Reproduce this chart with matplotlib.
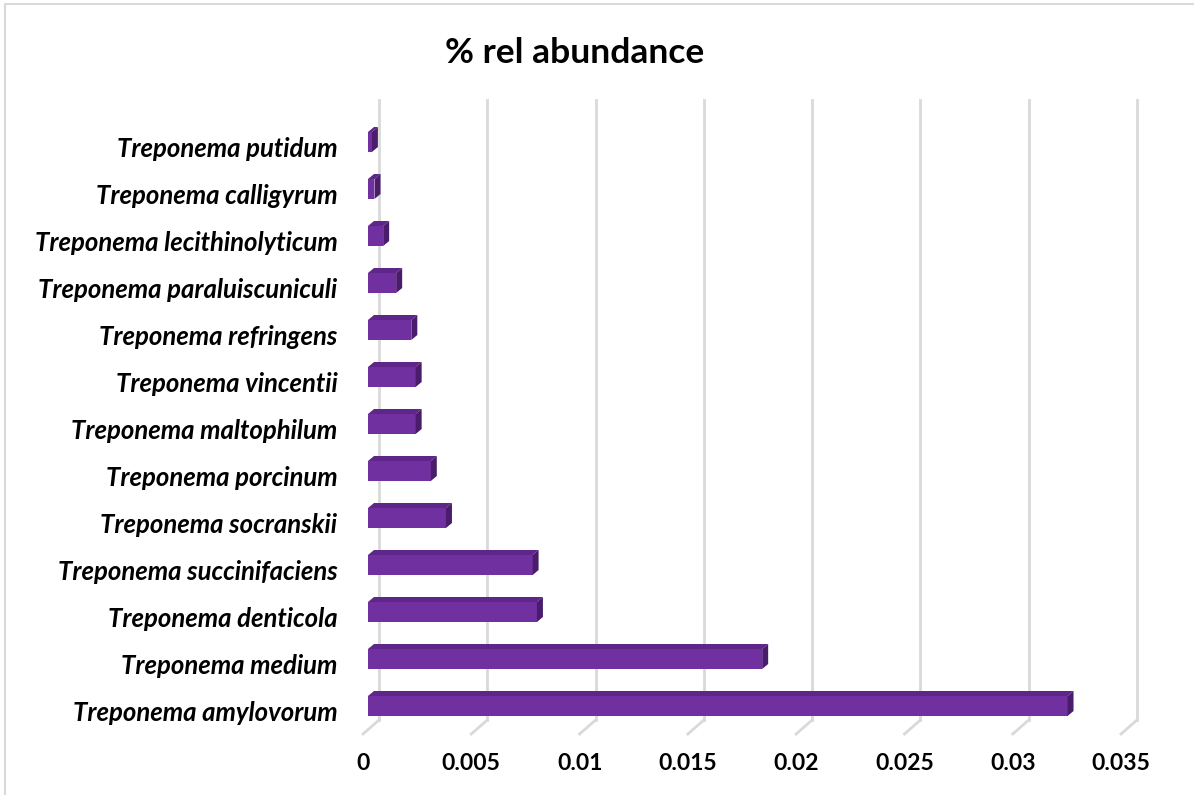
import matplotlib.pyplot as plt
from matplotlib.patches import Polygon, Rectangle
from matplotlib.transforms import ScaledTranslation, blended_transform_factory

# species, listed bottom to top as they appear on the chart
species = [
    "Treponema amylovorum",
    "Treponema medium",
    "Treponema denticola",
    "Treponema succinifaciens",
    "Treponema socranskii",
    "Treponema porcinum",
    "Treponema maltophilum",
    "Treponema vincentii",
    "Treponema refringens",
    "Treponema paraluiscuniculi",
    "Treponema lecithinolyticum",
    "Treponema calligyrum",
    "Treponema putidum",
]
abundance = [0.0323, 0.0182, 0.0078, 0.0076, 0.0036, 0.0029, 0.0022,
             0.0022, 0.0020, 0.0013, 0.0007, 0.0003, 0.00018]
xticks = [0, 0.005, 0.01, 0.015, 0.02, 0.025, 0.03, 0.035]
xtick_labels = ["0", "0.005", "0.01", "0.015", "0.02", "0.025", "0.03", "0.035"]

W, H = 1194, 795
front = "#7030a0"
top_c = "#5e2689"
side_c = "#4a1d6c"
grid_c = "#d9d9d9"
font = "Lato"

fig = plt.figure(figsize=(W / 100, H / 100), dpi=100)

# light outer frame of the chart area
fig.patches.append(Rectangle((5 / W, -0.1), 1.2, (H - 4) / H + 0.1,
                             transform=fig.transFigure, fill=False,
                             ec=grid_c, lw=1.5))

x0, x1 = 368, 1126
ytop, ybot = 104.4, 743.6
ax = fig.add_axes([x0 / W, (H - ybot) / H, (x1 - x0) / W, (ybot - ytop) / H])
ax.set_xlim(0, 0.035)
ax.set_ylim(-0.8, 12.8)
for s in ax.spines.values():
    s.set_visible(False)

# pixel -> data conversion for the fake depth
px_x = 0.035 / (x1 - x0)
px_y = 13.6 / (ybot - ytop)
dx, dy = 6 * px_x, 5 * px_y
bh = 20 * px_y

def ax_y(py):
    return (ybot - py) / (ybot - ytop)

# back-wall gridlines with a short floor segment toward the viewer
blend = blended_transform_factory(ax.transData, ax.transAxes)
back = blend + ScaledTranslation(0.11, 0, fig.dpi_scale_trans)
for t in xticks:
    ax.plot([t, t], [ax_y(100), ax_y(720)], color=grid_c, lw=2,
            transform=back, clip_on=False, zorder=0)
    ax.plot([t, t - 16 * px_x], [ax_y(720), ax_y(734)], color=grid_c, lw=2,
            transform=back, clip_on=False, zorder=0)

ypos = list(range(len(species)))
ax.barh(ypos, abundance, height=bh, color=front, zorder=3)
for y, v in zip(ypos, abundance):
    t = y + bh / 2
    b = y - bh / 2
    ax.add_patch(Polygon([(0, t), (v, t), (v + dx, t + dy), (dx, t + dy)],
                         closed=True, fc=top_c, ec="none", zorder=3))
    ax.add_patch(Polygon([(v, b), (v, t), (v + dx, t + dy), (v + dx, b + dy)],
                         closed=True, fc=side_c, ec="none", zorder=3))

ax.set_yticks(ypos)
ax.set_yticklabels(species, fontfamily=font, fontweight="bold",
                   fontstyle="italic", fontsize=18.5)
ax.tick_params(axis="y", length=0, pad=22)
ax.set_xticks(xticks)
ax.set_xticklabels(xtick_labels, fontfamily=font, fontweight="bold",
                   fontsize=16.5)
ax.tick_params(axis="x", length=0, pad=7)
for lab in ax.get_xticklabels():
    lab.set_transform(lab.get_transform() + ScaledTranslation(-0.05, 0, fig.dpi_scale_trans))
for lab in ax.get_yticklabels():
    lab.set_transform(lab.get_transform() + ScaledTranslation(0, -0.05, fig.dpi_scale_trans))

fig.text(575 / W, 1 - 53 / H, "% rel abundance", ha="center", va="center",
         fontfamily=font, fontweight="bold", fontsize=25.5)

fig.savefig("out.png", dpi=100, facecolor="white")
